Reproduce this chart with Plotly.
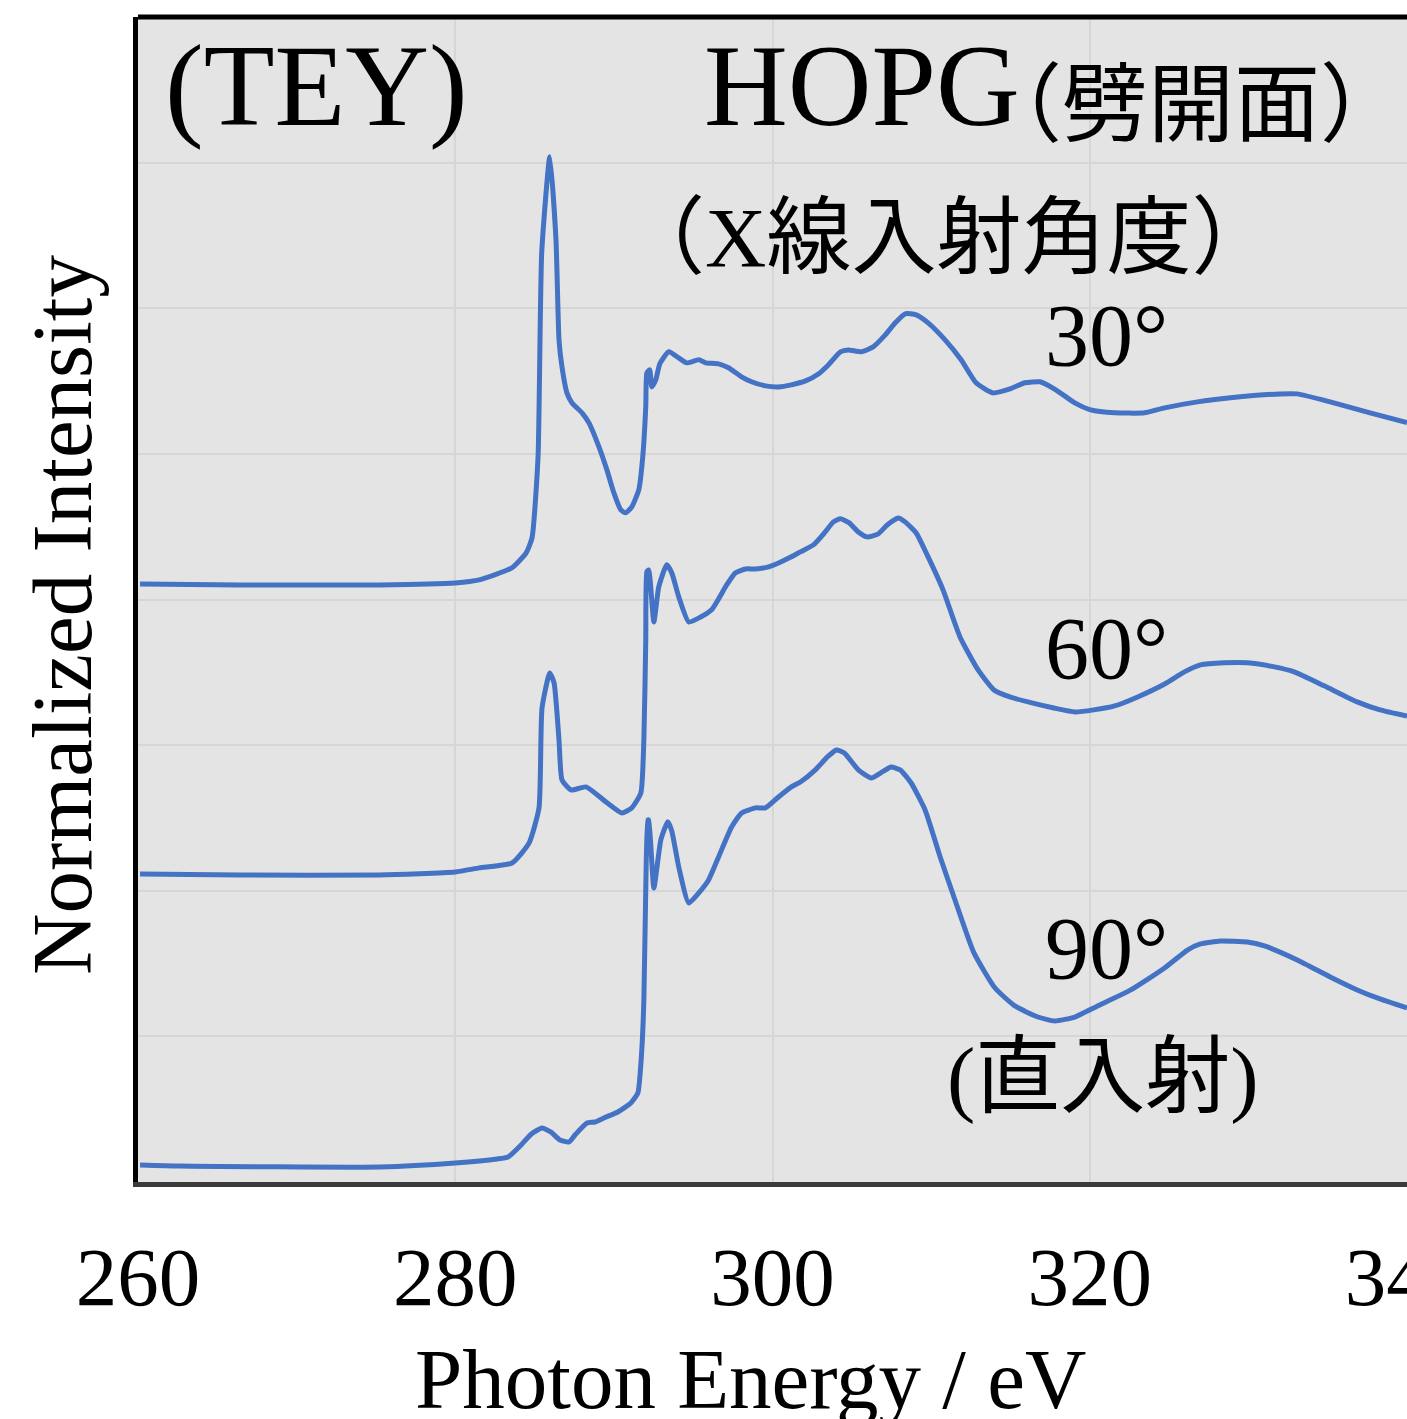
import plotly.graph_objects as go

# ---- data (photon energy in eV, normalized intensity with vertical offsets) ----
energy_30 = [260.13, 266.42, 275.22, 280.00, 281.51, 283.58, 284.47, 284.84, 285.22, 285.45,
             285.96, 286.35, 286.54, 286.73, 287.04, 287.36, 287.99, 288.43, 289.06, 289.56,
             290.00, 290.44, 290.75, 291.13, 291.57, 291.82, 292.01, 292.08, 292.26, 292.39,
             292.64, 292.90, 293.46, 294.09, 294.59, 295.35, 295.79, 296.60, 297.23, 298.05,
             298.68, 299.56, 300.38, 301.19, 302.08, 302.89, 303.52, 304.28, 304.78, 305.60,
             306.35, 307.11, 307.74, 308.36, 309.06, 309.81, 310.88, 311.89, 312.83, 313.90,
             314.97, 315.91, 316.86, 317.86, 319.06, 320.06, 321.57, 323.46, 324.72, 326.79,
             328.87, 332.01, 333.08, 335.16, 337.67, 340.00]
intensity_30 = [4.107, 4.100, 4.100, 4.114, 4.135, 4.218, 4.320, 4.423, 4.979, 6.380,
                7.040, 6.470, 5.783, 5.597, 5.419, 5.350, 5.282, 5.213, 5.048, 4.890,
                4.732, 4.615, 4.595, 4.636, 4.753, 4.979, 5.323, 5.556, 5.577, 5.460,
                5.508, 5.620, 5.701, 5.659, 5.625, 5.646, 5.625, 5.618, 5.591, 5.529,
                5.495, 5.467, 5.460, 5.474, 5.501, 5.549, 5.611, 5.701, 5.714, 5.701,
                5.735, 5.817, 5.900, 5.962, 5.955, 5.900, 5.783, 5.646, 5.488, 5.419,
                5.446, 5.488, 5.495, 5.440, 5.350, 5.302, 5.282, 5.282, 5.316, 5.357,
                5.385, 5.412, 5.412, 5.357, 5.282, 5.215]

energy_60 = [260.13, 266.42, 275.22, 280.00, 281.51, 283.58, 284.65, 285.28, 285.47, 285.96,
             286.23, 286.54, 286.73, 287.30, 288.24, 289.50, 290.50, 291.13, 291.70, 291.89,
             292.01, 292.08, 292.20, 292.52, 292.83, 293.33, 293.65, 294.09, 294.72, 295.47,
             296.16, 297.11, 297.67, 298.30, 298.93, 299.75, 300.38, 301.19, 301.76, 302.58,
             303.27, 303.84, 304.28, 304.84, 305.41, 305.97, 306.67, 307.23, 307.92, 308.36,
             309.06, 309.75, 310.75, 311.82, 312.96, 313.96, 314.97, 316.35, 317.74, 319.06,
             320.25, 321.57, 323.02, 324.72, 325.97, 326.98, 328.49, 329.94, 331.64, 332.89,
             334.78, 336.86, 338.30, 340.00]
intensity_60 = [2.115, 2.108, 2.108, 2.129, 2.157, 2.191, 2.327, 2.569, 3.255, 3.496,
                3.427, 3.036, 2.761, 2.692, 2.713, 2.610, 2.534, 2.569, 2.672, 3.036,
                3.723, 4.190, 4.203, 3.846, 4.087, 4.238, 4.183, 4.018, 3.846, 3.880,
                3.929, 4.100, 4.183, 4.210, 4.210, 4.224, 4.251, 4.293, 4.327, 4.375,
                4.457, 4.533, 4.554, 4.526, 4.464, 4.430, 4.451, 4.512, 4.560, 4.533,
                4.457, 4.306, 4.066, 3.743, 3.516, 3.379, 3.331, 3.290, 3.255, 3.228,
                3.242, 3.269, 3.331, 3.420, 3.503, 3.551, 3.565, 3.565, 3.537, 3.503,
                3.407, 3.297, 3.242, 3.200]

energy_90 = [260.13, 262.64, 275.22, 280.00, 282.64, 283.33, 284.15, 284.80, 285.47, 286.04,
             286.60, 287.17, 287.55, 288.30, 288.81, 289.37, 290.25, 291.07, 291.51, 291.76,
             291.89, 292.01, 292.14, 292.20, 292.52, 292.96, 293.40, 293.65, 294.09, 294.72,
             295.35, 295.97, 296.60, 297.42, 298.05, 298.93, 299.56, 300.38, 301.19, 301.76,
             302.70, 303.46, 304.03, 304.53, 305.41, 306.23, 306.92, 307.48, 308.05, 308.74,
             309.62, 310.57, 311.57, 312.70, 314.03, 315.28, 316.73, 317.80, 319.06, 320.50,
             322.58, 324.72, 326.16, 326.98, 328.24, 329.94, 331.01, 333.08, 335.16, 336.86,
             338.30, 340.00]
intensity_90 = [0.117, 0.110, 0.103, 0.130, 0.158, 0.172, 0.254, 0.330, 0.371, 0.343,
                0.288, 0.275, 0.323, 0.405, 0.412, 0.440, 0.481, 0.543, 0.611, 0.907,
                1.250, 2.005, 2.486, 2.486, 2.019, 2.349, 2.473, 2.411, 2.163, 1.916,
                1.985, 2.074, 2.232, 2.438, 2.534, 2.569, 2.569, 2.644, 2.713, 2.747,
                2.830, 2.919, 2.967, 2.946, 2.830, 2.775, 2.816, 2.850, 2.830, 2.740,
                2.555, 2.232, 1.916, 1.573, 1.332, 1.209, 1.133, 1.106, 1.133, 1.209,
                1.319, 1.470, 1.593, 1.635, 1.655, 1.648, 1.621, 1.525, 1.408, 1.319,
                1.257, 1.195]

x_ticks = [260, 280, 300, 320, 340]
y_grid = [0, 1, 2, 3, 4, 5, 6, 7, 8]

# ---- layout geometry ----
W, H = 1407, 1419
L, R, T, B = 138, 0, 17, 237
PW, PH = W - L - R, H - T - B

def fx(px):
    return (px - L) / PW

def fy(py):
    return (H - B - py) / PH

SERIF = "Liberation Serif, Noto Sans CJK JP"
CJK = "Noto Sans CJK JP"
BLUE = "#4472C4"

fig = go.Figure()
for e, i in [(energy_30, intensity_30), (energy_60, intensity_60), (energy_90, intensity_90)]:
    fig.add_trace(go.Scatter(x=e, y=i, mode="lines",
                             line=dict(color=BLUE, width=5, shape="spline", smoothing=0.5),
                             showlegend=False, hoverinfo="skip"))

def ann(text, px, py, size, family=SERIF, angle=0):
    fig.add_annotation(text=text, x=fx(px), y=fy(py), xref="paper", yref="paper",
                       showarrow=False, xanchor="center", yanchor="middle",
                       textangle=angle, font=dict(family=family, size=size, color="black"))

ann("(TEY)", 316, 86, 116)
ann("HOPG", 862, 86, 116)
ann("（劈開面）", 1191, 97, 86, CJK)
ann("（X線入射角度）", 948, 238, 85)
ann("30°", 1106, 335, 88)
ann("60°", 1106, 648, 88)
ann("90°", 1106, 948, 88)
ann("(直入射)", 1103, 1077, 85)
ann("Normalized Intensity", 62, 615, 85, angle=-90)
ann("Photon Energy / eV", 750, 1379, 85)

# top frame line
fig.add_shape(type="line", xref="paper", yref="paper", x0=0, x1=1, y0=1, y1=1,
              line=dict(color="black", width=5))

fig.update_layout(
    width=W, height=H,
    margin=dict(l=L, r=R, t=T, b=B, pad=0),
    paper_bgcolor="white",
    plot_bgcolor="#E4E4E4",
    xaxis=dict(range=[260, 340], tickvals=x_ticks, ticktext=[str(v) for v in x_ticks],
               showgrid=True, gridcolor="#D6D6D6", gridwidth=2,
               showline=True, linecolor="#3A3A3A", linewidth=5,
               ticks="", ticklabelstandoff=18, ticklabeloverflow="allow",
               tickfont=dict(family=SERIF, size=83, color="black"),
               zeroline=False, automargin=False, fixedrange=True),
    yaxis=dict(range=[0, 8], tickvals=y_grid, showticklabels=False,
               showgrid=True, gridcolor="#D6D6D6", gridwidth=2,
               showline=True, linecolor="black", linewidth=5,
               ticks="", zeroline=False, automargin=False, fixedrange=True),
)

fig.write_html("out.html",
               config={"displayModeBar": False},
               post_script="document.body.style.margin='0';"
                           "document.body.style.overflow='hidden';"
                           "document.documentElement.style.overflow='hidden';")
